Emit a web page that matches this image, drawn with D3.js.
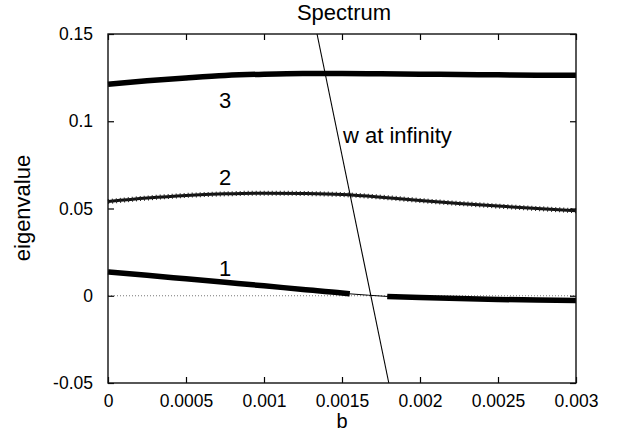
<!DOCTYPE html>
<html>
<head>
<meta charset="utf-8">
<script src="https://cdn.jsdelivr.net/npm/d3@7"></script>
<style>
  body { margin: 0; background: #fff; }
  text { font-family: "Liberation Sans", Arial, Helvetica, sans-serif; fill: #000; }
</style>
</head>
<body>
<svg id="chart"></svg>
<script>
// values
const bValues = [0, 0.00025, 0.0005, 0.00075, 0.001, 0.00125, 0.0015, 0.00175, 0.002, 0.00225, 0.0025, 0.00275, 0.003];
const mode3 = [0.1212, 0.1232, 0.1248, 0.1262, 0.1270, 0.1274, 0.1274, 0.1272, 0.1270, 0.1268, 0.1266, 0.1264, 0.1263];
const mode2 = [0.0540, 0.0560, 0.0575, 0.0584, 0.0588, 0.0586, 0.0580, 0.0565, 0.0546, 0.0529, 0.0514, 0.0500, 0.0487];

// mode 1 is only resolved (thick) away from the crossing with w at infinity
const mode1B = [0, 0.00025, 0.0005, 0.00075, 0.001, 0.00125, 0.0015, 0.00155, 0.00167, 0.00179, 0.002, 0.00225, 0.0025, 0.00275, 0.003];
const mode1 = [0.0136, 0.0117, 0.0097, 0.0077, 0.0057, 0.0036, 0.0016, 0.0011, 0.0003, -0.0004, -0.0010, -0.0016, -0.0021, -0.0025, -0.0027];
const mode1Thick = [true, true, true, true, true, true, true, true, false, true, true, true, true, true, true];

// the "w at infinity" line
const wInfB = [0.00134, 0.0018];
const wInfValue = [0.15, -0.05];

const xTicks = [0, 0.0005, 0.001, 0.0015, 0.002, 0.0025, 0.003];
const xTickLabels = ['0', '0.0005', '0.001', '0.0015', '0.002', '0.0025', '0.003'];
const yTicks = [-0.05, 0, 0.05, 0.1, 0.15];
const yTickLabels = ['-0.05', '0', '0.05', '0.1', '0.15'];

const width = 623;
const height = 432;
const margin = { top: 34, right: 47, bottom: 49, left: 108 };
const innerW = width - margin.left - margin.right;
const innerH = height - margin.top - margin.bottom;

const svg = d3.select('#chart').attr('width', width).attr('height', height);
const g = svg.append('g').attr('transform', `translate(${margin.left},${margin.top})`);

const x = d3.scaleLinear().domain([0, 0.003]).range([0, innerW]);
const y = d3.scaleLinear().domain([-0.05, 0.15]).range([innerH, 0]);

/* zero line */
g.append('line')
  .attr('x1', 0).attr('x2', innerW)
  .attr('y1', y(0)).attr('y2', y(0))
  .attr('stroke', '#777')
  .attr('stroke-width', 1)
  .attr('stroke-dasharray', '1 2');

const line = d3.line().x((d) => x(d[0])).y((d) => y(d[1])).curve(d3.curveMonotoneX);

/* mode 3 */
g.append('path')
  .attr('fill', 'none')
  .attr('stroke', '#000')
  .attr('stroke-width', 5.5)
  .attr('d', line(bValues.map((b, i) => [b, mode3[i]])));

/* mode 2: thinner line with a fuzzy marker texture */
const m2 = line(bValues.map((b, i) => [b, mode2[i]]));
g.append('path')
  .attr('fill', 'none')
  .attr('stroke', '#111')
  .attr('stroke-width', 3)
  .attr('d', m2);
g.append('path')
  .attr('fill', 'none')
  .attr('stroke', '#222')
  .attr('stroke-width', 5)
  .attr('stroke-dasharray', '1 3')
  .attr('d', m2);

/* mode 1 */
const m1 = mode1B.map((b, i) => [b, mode1[i], mode1Thick[i]]);
g.append('path')
  .attr('fill', 'none')
  .attr('stroke', '#000')
  .attr('stroke-width', 1)
  .attr('d', d3.line().x((d) => x(d[0])).y((d) => y(d[1]))(m1));
g.append('path')
  .attr('fill', 'none')
  .attr('stroke', '#000')
  .attr('stroke-width', 5.5)
  .attr('d', d3.line().defined((d) => d[2]).x((d) => x(d[0])).y((d) => y(d[1])).curve(d3.curveMonotoneX)(m1));

/* w at infinity */
g.append('path')
  .attr('fill', 'none')
  .attr('stroke', '#000')
  .attr('stroke-width', 1.1)
  .attr('d', d3.line().x((d) => x(d[0])).y((d) => y(d[1]))(wInfB.map((b, i) => [b, wInfValue[i]])));

/* axes, ticks inward on all four sides */
const xAxis = d3.axisBottom(x).tickValues(xTicks)
  .tickFormat((d, i) => xTickLabels[i])
  .tickSizeInner(-6).tickSizeOuter(0).tickPadding(12);
const yAxis = d3.axisLeft(y).tickValues(yTicks)
  .tickFormat((d, i) => yTickLabels[i])
  .tickSizeInner(-6).tickSizeOuter(0).tickPadding(15);

const gx = g.append('g').attr('transform', `translate(0,${innerH})`).call(xAxis);
const gy = g.append('g').call(yAxis);
const gxTop = g.append('g').call(d3.axisTop(x).tickValues(xTicks).tickFormat('').tickSizeInner(-6).tickSizeOuter(0));
const gyRight = g.append('g').attr('transform', `translate(${innerW},0)`)
  .call(d3.axisRight(y).tickValues(yTicks).tickFormat('').tickSizeInner(-6).tickSizeOuter(0));

[gx, gy, gxTop, gyRight].forEach((a) => {
  a.select('.domain').remove();
  a.selectAll('line').attr('stroke', '#000').attr('stroke-width', 1.2);
  a.selectAll('text').style('font-size', '17.5px').attr('fill', '#000');
});

/* frame */
g.append('rect')
  .attr('width', innerW).attr('height', innerH)
  .attr('fill', 'none')
  .attr('stroke', '#111')
  .attr('stroke-width', 1.4);

/* texts */
svg.append('text').attr('x', 344).attr('y', 20).attr('text-anchor', 'middle')
  .style('font-size', '22px').text('Spectrum');
svg.append('text').attr('x', 342).attr('y', 428).attr('text-anchor', 'middle')
  .style('font-size', '20px').text('b');
svg.append('text').attr('transform', 'translate(30,208) rotate(-90)').attr('text-anchor', 'middle')
  .style('font-size', '22px').text('eigenvalue');
svg.append('text').attr('x', 343).attr('y', 143)
  .style('font-size', '22px').text('w at infinity');

const curveLabels = ['3', '2', '1'];
const curveLabelY = [108, 185, 276];
curveLabels.forEach((t, i) => {
  svg.append('text').attr('x', 225).attr('y', curveLabelY[i]).attr('text-anchor', 'middle')
    .style('font-size', '22px').text(t);
});
</script>
</body>
</html>
